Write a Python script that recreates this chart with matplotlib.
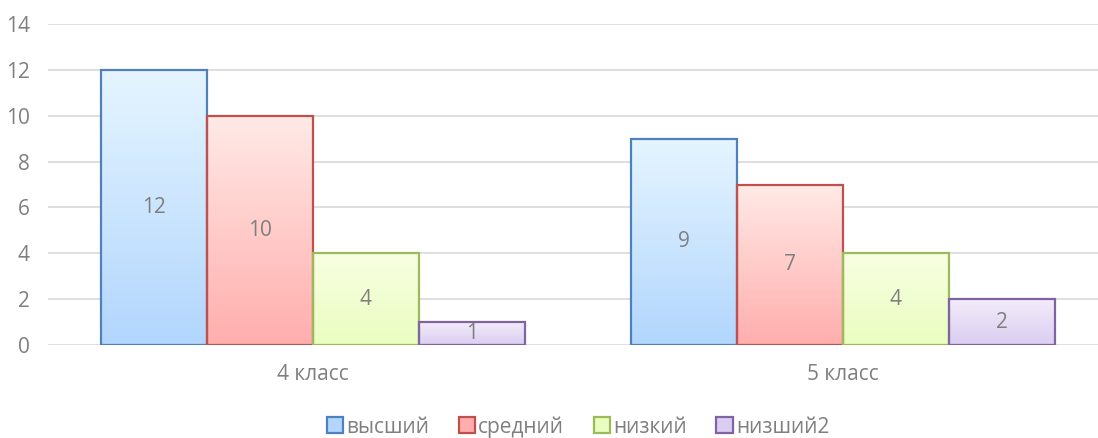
import numpy as np
import matplotlib.pyplot as plt
from matplotlib.colors import LinearSegmentedColormap
from matplotlib.patches import Patch

plt.rcParams['font.family'] = ['Open Sans', 'DejaVu Sans']

categories = ["4 класс", "5 класс"]
series_names = ["высший", "средний", "низкий", "низший2"]
values = [
    [12, 9],
    [10, 7],
    [4, 4],
    [1, 2],
]
y_ticks = [0, 2, 4, 6, 8, 10, 12, 14]

edge_colors = ["#4F81BD", "#C0504D", "#9BBB59", "#8064A2"]
top_colors = ["#E5F5FF", "#FFEAE6", "#F8FFE2", "#F3ECFA"]
bottom_colors = ["#B2D6FD", "#FFAEAD", "#EAFDC0", "#DACDF1"]
text_color = "#7F7F7F"

fig = plt.figure(figsize=(10.98, 4.38), dpi=100)
ax = fig.add_axes([48 / 1098, 93 / 438, 1060 / 1098, 321 / 438])

x = np.arange(len(categories))
bw = 0.2
grad = np.linspace(0, 1, 256).reshape(-1, 1)

for i, name in enumerate(series_names):
    xs = x - 0.4 + bw * i + bw / 2
    cmap = LinearSegmentedColormap.from_list(name, [bottom_colors[i], top_colors[i]])
    bars = ax.bar(xs, values[i], width=bw, facecolor='none',
                  edgecolor=edge_colors[i], linewidth=1.6, zorder=4)
    for rect, v in zip(bars, values[i]):
        x0 = rect.get_x()
        ax.imshow(grad, extent=[x0, x0 + bw, 0, v], origin='lower',
                  aspect='auto', cmap=cmap, zorder=3)
        ax.text(x0 + bw / 2, v / 2, str(v), ha='center', va='center',
                color=text_color, fontsize=15, zorder=5)

ax.set_xlim(-0.5, 1.5)
ax.set_ylim(0, 14)
ax.set_yticks(y_ticks)
ax.set_xticks(x)
ax.set_xticklabels(categories)
ax.grid(axis='y', color='#D9D9D9', linewidth=1.2, zorder=0)
ax.set_axisbelow(True)
for s in ax.spines.values():
    s.set_visible(False)
ax.tick_params(axis='both', length=0, colors=text_color, labelsize=15)
ax.tick_params(axis='y', pad=13)
ax.tick_params(axis='x', pad=14)

handles = [Patch(facecolor=bottom_colors[i], edgecolor=edge_colors[i], linewidth=1.6)
           for i in range(len(series_names))]
leg = ax.legend(handles, series_names, loc='center', bbox_to_anchor=(0.5, -0.255),
                ncol=4, frameon=False, fontsize=15, handlelength=0.8, handleheight=0.8,
                handletextpad=0.15, columnspacing=1.4, borderpad=0.1)
for t in leg.get_texts():
    t.set_color(text_color)

fig.savefig("out.png", dpi=100)
